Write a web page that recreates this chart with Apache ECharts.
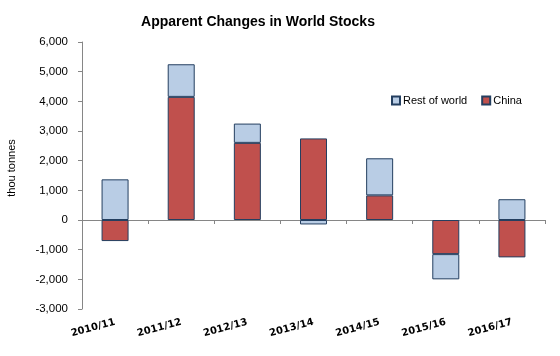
<!DOCTYPE html>
<html>
<head>
<meta charset="utf-8">
<script src="https://cdn.jsdelivr.net/npm/echarts@6/dist/echarts.min.js"></script>
<style>html,body{margin:0;padding:0;background:#fff}#c{width:560px;height:356px}</style>
</head>
<body>
<div id="c"></div>
<script>
var categories = ['2010/11','2011/12','2012/13','2013/14','2014/15','2015/16','2016/17'];
var china = [-710, 4150, 2600, 2750, 830, -1150, -1260];
var restOfWorld = [1370, 1100, 650, -150, 1250, -850, 700];
var yTicks = {min: -3000, max: 6000, interval: 1000};

var chart = echarts.init(document.getElementById('c'));
var font = 'Liberation Sans, Arial, sans-serif';
chart.setOption({
  animation: false,
  title: {
    text: 'Apparent Changes in World Stocks',
    left: 253, top: 10, textAlign: 'center',
    textStyle: {fontFamily: font, fontWeight: 900, fontSize: 14, color: '#000'}
  },
  legend: {
    data: ['Rest of world', 'China'],
    left: 386, top: 90,
    itemWidth: 8, itemHeight: 8, itemGap: 14,
    icon: 'rect',
    textStyle: {fontFamily: font, fontSize: 11, color: '#000', padding: [0,0,0,-2]}
  },
  graphic: [{
    type: 'text', x: 12, y: 168, rotation: Math.PI / 2,
    style: {text: 'thou tonnes', fontFamily: font, fontSize: 11, fill: '#000',
      textAlign: 'center', textVerticalAlign: 'middle'}
  }],
  grid: {left: 82, right: 15, top: 42, bottom: 47},
  xAxis: [{
    type: 'category', data: categories,
    axisLine: {onZero: true, lineStyle: {color: '#868686', width: 1}},
    axisTick: {show: true, length: 4, lineStyle: {color: '#868686'}},
    axisLabel: {show: false}
  }, {
    type: 'category', data: categories, position: 'bottom',
    axisLine: {show: false, onZero: false},
    axisTick: {show: false},
    axisLabel: {rotate: 15, margin: 13, fontFamily: 'DejaVu Sans, sans-serif', fontWeight: 'bold', fontSize: 10, color: '#000', align: 'right'}
  }],
  yAxis: {
    type: 'value', min: yTicks.min, max: yTicks.max, interval: yTicks.interval,
    axisLine: {show: true, lineStyle: {color: '#868686'}},
    axisTick: {show: true, length: 4, lineStyle: {color: '#868686'}},
    splitLine: {show: false},
    axisLabel: {fontFamily: font, fontSize: 11.5, color: '#000', margin: 14,
      formatter: function (v) { return v.toLocaleString('en-US'); }}
  },
  series: [{
    name: 'China', type: 'bar', stack: 'a', data: china, barWidth: 27, xAxisIndex: 0,
    itemStyle: {color: '#C0504D', borderColor: '#243F60', borderWidth: 1}
  }, {
    name: 'Rest of world', type: 'bar', stack: 'a', data: restOfWorld, barWidth: 27, xAxisIndex: 0,
    itemStyle: {color: '#B9CDE5', borderColor: '#243F60', borderWidth: 1}
  }]
});
</script>
</body>
</html>
